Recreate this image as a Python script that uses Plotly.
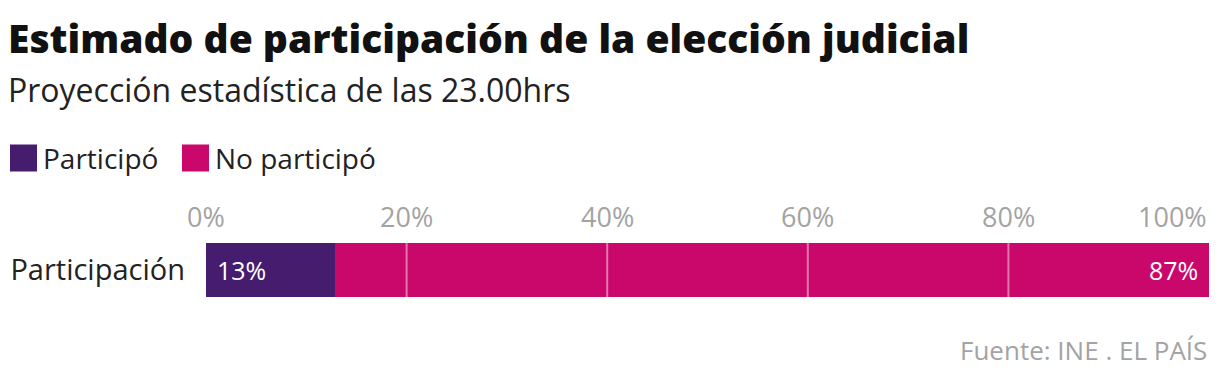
import plotly.graph_objects as go

# ---- data ----
categories = ["Participación"]
series_names = ["Participó", "No participó"]
participo = [12.9]
no_participo = [87.1]
value_labels = ["13%", "87%"]
tick_vals = [0, 20, 40, 60, 80, 100]
tick_text = ["0%", "20%", "40%", "60%", "80%", "100%"]
colors = ["#461D6E", "#CA076B"]

OFF = 8  # default page body margin
W, H = 1220 - OFF, 380 - OFF
# plot area in screen pixels: x 206..1209, y 225..315
ML, MR, MT, MB = 206 - OFF, W - (1209 - OFF), 225 - OFF, H - (315 - OFF)
PH = H - MT - MB
PW = W - ML - MR
FONT = "Open Sans"
GREY = "#A3A3A3"
DARK = "#222222"


def py(p):  # screen pixel y -> paper y
    return (315 - p) / PH


def px(p):  # screen pixel x -> paper x
    return (p - 206) / PW


fig = go.Figure()
for name, vals, col in zip(series_names, [participo, no_participo], colors):
    fig.add_trace(go.Bar(
        y=categories, x=vals, name=name, orientation="h",
        marker=dict(color=col, line=dict(width=0)),
        showlegend=False, hoverinfo="skip",
    ))

shapes = []
# grid lines drawn above the bars
for v in tick_vals[1:-1]:
    shapes.append(dict(type="line", xref="x", yref="paper", x0=v, x1=v, y0=0, y1=1,
                       line=dict(color="rgba(255,255,255,0.45)", width=2), layer="above"))

annotations = []
# value labels inside bars
annotations.append(dict(x=0, y=categories[0], xref="x", yref="y", text=value_labels[0],
                        xanchor="left", xshift=9, showarrow=False,
                        font=dict(family=FONT, size=25, color="white")))
annotations.append(dict(x=100, y=categories[0], xref="x", yref="y", text=value_labels[1],
                        xanchor="right", xshift=-9, showarrow=False,
                        font=dict(family=FONT, size=25, color="white")))
# tick labels (top), last one right-aligned
for i, (v, t) in enumerate(zip(tick_vals, tick_text)):
    annotations.append(dict(x=v, y=py(216), xref="x", yref="paper", text=t,
                            xanchor="right" if i == len(tick_vals) - 1 else "center",
                            yanchor="middle", showarrow=False,
                            font=dict(family=FONT, size=27, color=GREY)))

# legend
sw = 27
leg_y = 158
legend_x = [10, 182]
for name, col, x0 in zip(series_names, colors, legend_x):
    shapes.append(dict(type="rect", xref="paper", yref="paper",
                       x0=px(x0), x1=px(x0 + sw), y0=py(leg_y + sw / 2), y1=py(leg_y - sw / 2),
                       fillcolor=col, line=dict(width=0)))
    annotations.append(dict(x=px(x0 + sw + 4), y=py(leg_y), xref="paper", yref="paper",
                            text=name, xanchor="left", yanchor="middle", showarrow=False,
                            font=dict(family=FONT, size=28, color=DARK)))

# title
annotations.append(dict(x=px(6), y=py(37), xref="paper", yref="paper",
                        text="Estimado de participación de la elección judicial",
                        xanchor="left", yanchor="middle", showarrow=False,
                        font=dict(family=FONT, size=39, color="#111111", weight=800)))
# subtitle
annotations.append(dict(x=px(6), y=py(89), xref="paper", yref="paper",
                        text="Proyección estadística de las 23.00hrs",
                        xanchor="left", yanchor="middle", showarrow=False,
                        font=dict(family=FONT, size=32, color=DARK)))
# source
annotations.append(dict(x=1, y=py(350), xref="paper", yref="paper",
                        text="Fuente: INE . EL PAÍS",
                        xanchor="right", yanchor="middle", showarrow=False,
                        font=dict(family=FONT, size=26, color=GREY)))

fig.update_layout(
    width=W, height=H,
    margin=dict(l=ML, r=MR, t=MT, b=MB, autoexpand=False),
    paper_bgcolor="white", plot_bgcolor="white",
    barmode="stack", bargap=0.4,
    xaxis=dict(range=[0, 100], side="top", showticklabels=False,
               showgrid=False, zeroline=False, showline=False, ticks="", fixedrange=True),
    yaxis=dict(showgrid=False, zeroline=False, showline=False, ticks="",
               tickfont=dict(family=FONT, size=29, color=DARK), ticklabelstandoff=20),
    shapes=shapes, annotations=annotations,
    font=dict(family=FONT),
)

fig.write_html("out.html")
